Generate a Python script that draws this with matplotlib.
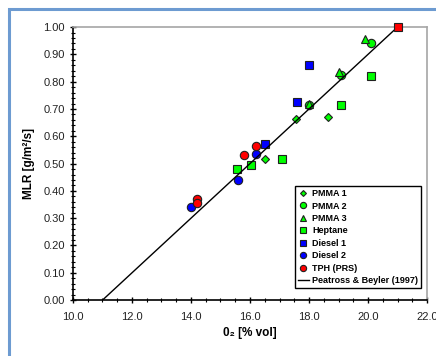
import matplotlib

matplotlib.use("Agg")
import matplotlib.pyplot as plt
from matplotlib.patches import Rectangle
from matplotlib.ticker import MultipleLocator, FormatStrFormatter

plt.rcParams["font.family"] = ["Liberation Sans", "DejaVu Sans"]

# data (O2 % vol, MLR g/m2/s)
pmma1_x = [17.55, 18.65, 16.5]
pmma1_y = [0.665, 0.67, 0.515]
pmma2_x = [20.1, 19.1, 18.0]
pmma2_y = [0.94, 0.825, 0.715]
pmma3_x = [19.9, 19.0, 18.0]
pmma3_y = [0.955, 0.837, 0.72]
heptane_x = [20.1, 19.1, 17.1, 16.05, 15.55]
heptane_y = [0.82, 0.715, 0.515, 0.493, 0.48]
diesel1_x = [18.0, 17.6, 16.5]
diesel1_y = [0.862, 0.725, 0.572]
diesel2_x = [16.2, 15.6, 14.0]
diesel2_y = [0.534, 0.441, 0.342]
tph_x = [16.2, 15.8, 14.2, 14.2]
tph_y = [0.566, 0.531, 0.372, 0.356]
ambient_x = [21.0]
ambient_y = [1.0]
model_x = [11.0, 21.0]
model_y = [0.0, 1.0]

fig = plt.figure(figsize=(4.36, 3.56), dpi=100)
ax = fig.add_axes([0.1674, 0.157, 0.812, 0.767])

green = "#00ff00"
blue = "#0000ff"
red = "#ff0000"
edge = "#202020"
kw = dict(linestyle="none", markeredgecolor=edge, markeredgewidth=0.8)

ax.plot(pmma1_x, pmma1_y, marker="D", markersize=4, color=green, label="PMMA 1", **kw)
ax.plot(pmma2_x, pmma2_y, marker="o", markersize=6, color=green, label="PMMA 2", **kw)
ax.plot(pmma3_x, pmma3_y, marker="^", markersize=6, color=green, label="PMMA 3", **kw)
ax.plot(heptane_x, heptane_y, marker="s", markersize=6, color=green, label="Heptane", **kw)
ax.plot(diesel1_x, diesel1_y, marker="s", markersize=6, color=blue, label="Diesel 1", **kw)
ax.plot(diesel2_x, diesel2_y, marker="o", markersize=6, color=blue, label="Diesel 2", **kw)
ax.plot(tph_x, tph_y, marker="o", markersize=6, color=red, label="TPH (PRS)", **kw)
ax.plot(ambient_x, ambient_y, marker="s", markersize=6, color=red, clip_on=False,
        zorder=5, **kw)
ax.plot(model_x, model_y, color="black", linewidth=1.0, label="Peatross & Beyler (1997)")

ax.set_xlim(10, 22)
ax.set_ylim(0, 1)
ax.xaxis.set_major_locator(MultipleLocator(2))
ax.xaxis.set_minor_locator(MultipleLocator(0.5))
ax.yaxis.set_major_locator(MultipleLocator(0.1))
ax.yaxis.set_minor_locator(MultipleLocator(0.02))
ax.xaxis.set_major_formatter(FormatStrFormatter("%.1f"))
ax.yaxis.set_major_formatter(FormatStrFormatter("%.2f"))
ax.tick_params(which="both", direction="inout", labelsize=8, colors="black",
               labelcolor="#222222")
ax.tick_params(which="major", length=5, width=1)
ax.tick_params(which="minor", length=3, width=0.8)
ax.tick_params(axis="x", pad=6)

for side in ("top", "right"):
    ax.spines[side].set_color("#a6a6a6")
    ax.spines[side].set_linewidth(1.2)
for side in ("left", "bottom"):
    ax.spines[side].set_color("black")
    ax.spines[side].set_linewidth(1.2)

ax.set_xlabel("0₂ [% vol]", fontsize=8.5, fontweight="bold", labelpad=4)
ax.set_ylabel("MLR [g/m²/s]", fontsize=8.5, fontweight="bold", labelpad=6)

leg = ax.legend(loc="lower right", bbox_to_anchor=(0.983, 0.045), prop={"size": 6.5, "weight": "bold"},
                frameon=True, fancybox=False, edgecolor="black", framealpha=1,
                handlelength=1.2, handletextpad=0.4, labelspacing=0.38, markerscale=0.75,
                borderpad=0.3, borderaxespad=0)
leg.get_frame().set_linewidth(1.0)

fig.patches.append(Rectangle((9 / 436, -0.2), 1.2, 1.2 - 9 / 356, transform=fig.transFigure,
                             fill=False, edgecolor="#6d9bd1", linewidth=2.2))

fig.savefig("out.png", dpi=100)
